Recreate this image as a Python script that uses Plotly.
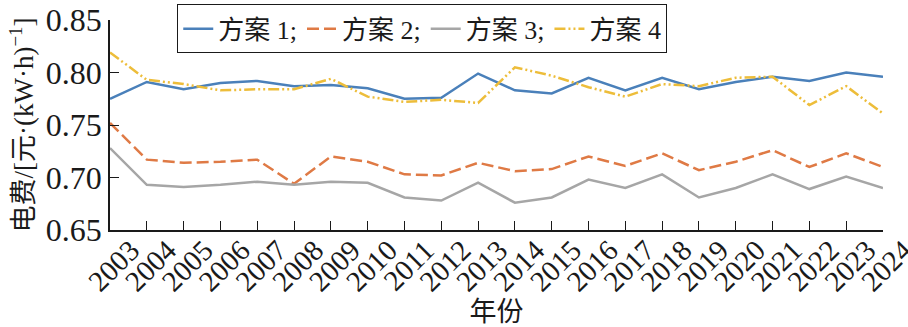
import plotly.graph_objects as go

years = [str(y) for y in range(2003, 2025)]
plan1 = [0.775, 0.791, 0.784, 0.790, 0.792, 0.787, 0.788, 0.785, 0.775, 0.776, 0.799,
         0.783, 0.780, 0.795, 0.783, 0.795, 0.784, 0.791, 0.796, 0.792, 0.800, 0.796]
plan2 = [0.752, 0.717, 0.714, 0.715, 0.717, 0.694, 0.720, 0.715, 0.703, 0.702, 0.714,
         0.706, 0.708, 0.720, 0.711, 0.723, 0.707, 0.715, 0.726, 0.710, 0.723, 0.710]
plan3 = [0.728, 0.693, 0.691, 0.693, 0.696, 0.693, 0.696, 0.695, 0.681, 0.678, 0.695,
         0.676, 0.681, 0.698, 0.690, 0.703, 0.681, 0.690, 0.703, 0.689, 0.701, 0.690]
plan4 = [0.819, 0.793, 0.789, 0.783, 0.784, 0.784, 0.794, 0.777, 0.772, 0.774, 0.771,
         0.805, 0.797, 0.786, 0.777, 0.789, 0.787, 0.795, 0.796, 0.769, 0.787, 0.761]
names = ["方案 1;", "方案 2;", "方案 3;", "方案 4"]
y_ticks = [0.65, 0.70, 0.75, 0.80, 0.85]

FONT = "Liberation Serif, Noto Sans CJK SC, serif"

fig = go.Figure()
styles = [
    ("#4A80BA", "solid"),
    ("#DF7A45", "12px,5px"),
    ("#A6A6A6", "solid"),
    ("#EDBD3A", "11px,3px,2px,3px,2px,3px"),
]
for name, vals, (col, dash) in zip(names, [plan1, plan2, plan3, plan4], styles):
    fig.add_trace(go.Scatter(x=years, y=vals, mode="lines", name=name,
                             line=dict(color=col, width=2.5, dash=dash)))

fig.update_layout(
    width=908, height=327,
    margin=dict(l=110, r=25, t=20, b=97, autoexpand=False),
    paper_bgcolor="white", plot_bgcolor="white",
    font=dict(family=FONT, size=26, color="#1a1a1a"),
    showlegend=True,
    legend=dict(orientation="h", x=0.087, y=1.075, xanchor="left", yanchor="top",
                bordercolor="#1a1a1a", borderwidth=1, bgcolor="white",
                font=dict(family=FONT, size=26), itemwidth=30, tracegroupgap=0),
)
fig.update_xaxes(
    type="category", range=[0, 21], tickmode="array", tickvals=years, ticktext=years,
    automargin=False, showgrid=False, showline=True,
    linecolor="#1a1a1a", linewidth=1.5, ticks="inside", ticklen=9, tickwidth=1,
    tickcolor="#1a1a1a", tickangle=-45, tickfont=dict(family=FONT, size=29),
    ticklabelshift=21, ticklabelstandoff=-10,
    title=dict(text="年份", font=dict(family=FONT, size=27), standoff=0),
)
fig.update_yaxes(
    range=[0.65, 0.85], tickvals=y_ticks, tickformat=".2f", showgrid=False,
    automargin=False,
    showline=True, linecolor="#1a1a1a", linewidth=1.5, ticks="inside",
    ticklen=9, tickwidth=1, tickcolor="#1a1a1a", tickfont=dict(family=FONT, size=32),
    zeroline=False,
    title=dict(text="电费/[元·(kW·h)<sup>−1</sup>]", font=dict(family=FONT, size=27), standoff=4),
)

fig.write_html("out.html")
